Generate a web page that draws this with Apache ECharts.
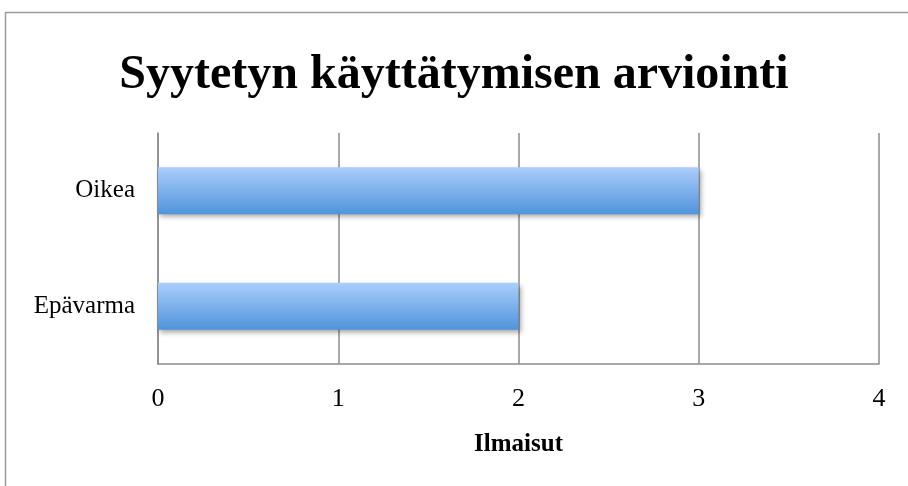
<!DOCTYPE html>
<html>
<head>
<meta charset="utf-8">
<script src="https://cdn.jsdelivr.net/npm/echarts@6/dist/echarts.min.js"></script>
<style>
  html, body { margin: 0; padding: 0; background: #fff; }
  #chart { width: 908px; height: 486px; }
</style>
</head>
<body>
<div id="chart"></div>
<script>
// data
var categories = ['Epävarma', 'Oikea'];
var values = [2, 3];
var xTicks = [0, 1, 2, 3, 4];

var chart = echarts.init(document.getElementById('chart'));

chart.setOption({
  animation: false,
  textStyle: { fontFamily: '"Liberation Serif", "DejaVu Serif", serif', color: '#000' },
  title: {
    text: 'Syytetyn käyttätymisen arviointi',
    left: 'center',
    top: 47,
    textStyle: { fontSize: 48, fontWeight: 'bold', color: '#000', fontFamily: '"Liberation Serif", serif' }
  },
  graphic: [{
    type: 'rect',
    shape: { x: 5.5, y: 12.5, width: 930, height: 500 },
    style: { fill: 'none', stroke: '#9a9a9a', lineWidth: 1.5 },
    silent: true
  }],
  grid: { left: 158, right: 29, top: 133, bottom: 122 },
  xAxis: {
    type: 'value',
    min: xTicks[0],
    max: xTicks[xTicks.length - 1],
    interval: 1,
    name: 'Ilmaisut',
    nameLocation: 'middle',
    nameGap: 68,
    nameTextStyle: { fontSize: 25, fontWeight: 'bold', color: '#000' },
    axisLine: { show: true, lineStyle: { color: '#8c8c8c', width: 1.5 } },
    axisTick: { show: false },
    axisLabel: { fontSize: 26, color: '#000', margin: 22 },
    splitLine: { show: true, lineStyle: { color: '#8c8c8c', width: 1.5 } }
  },
  yAxis: {
    type: 'category',
    data: categories,
    axisLine: { show: true, lineStyle: { color: '#8c8c8c', width: 1.5 } },
    axisTick: { show: false },
    axisLabel: { fontSize: 25, color: '#000', margin: 23 }
  },
  series: [{
    type: 'bar',
    data: values,
    barWidth: 47,
    itemStyle: {
      color: new echarts.graphic.LinearGradient(0, 0, 0, 1, [
        { offset: 0, color: '#abcefc' },
        { offset: 1, color: '#4f94da' }
      ]),
      shadowColor: 'rgba(0,0,0,0.35)',
      shadowBlur: 5,
      shadowOffsetX: 2,
      shadowOffsetY: 3
    }
  }]
});
</script>
</body>
</html>
